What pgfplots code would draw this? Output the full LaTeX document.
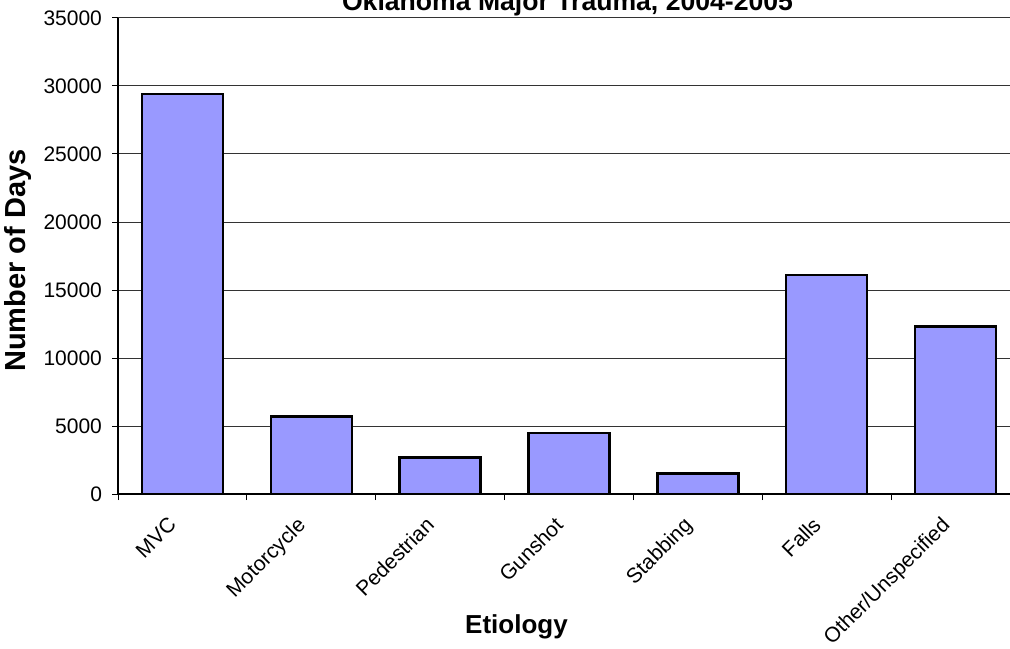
\documentclass[border=0pt]{standalone}
\usepackage{fontspec}
\setmainfont{Liberation Sans}
\usepackage{pgfplots}
\pgfplotsset{compat=1.18}
\definecolor{barfill}{RGB}{153,153,255}
\begin{document}
\begin{tikzpicture}
\path[use as bounding box, clip] (0,0) rectangle (505pt,324pt);
\begin{axis}[
  at={(59pt,77pt)}, anchor=south west,
  scale only axis, width=451pt, height=238pt,
  xmin=-0.5, xmax=6.5, ymin=0, ymax=35000,
  axis x line*=bottom, axis y line*=left,
  axis line style={black, line width=0.6pt},
  ytick={0,5000,...,35000},
  ymajorgrids, grid style={black!80, line width=0.5pt},
  xtick={0,...,6},
  xticklabels={MVC,Motorcycle,Pedestrian,Gunshot,Stabbing,Falls,Other/Unspecified},
  major x tick style={draw=none},
  minor xtick={-0.5,0.5,...,6.5},
  tick align=outside,
  tick style={black, line width=0.5pt},
  major tick length=3pt, minor tick length=3pt,
  scaled y ticks=false,
  yticklabel style={/pgf/number format/1000 sep={}, xshift=-1.5pt},
  /pgf/number format/assume math mode=true,
  ticklabel style={font=\fontsize{10.5}{12}\selectfont},
  xticklabel style={xshift=-7.7pt, yshift=-2.95pt, rotate=45, anchor=north east},
]
\addplot[ybar, bar width=40.5pt, fill=barfill, draw=black, line width=1.25pt]
  coordinates {(0,29400) (1,5700) (2,2700) (3,4500) (4,1500) (5,16100) (6,12300)};
\end{axis}
\node[anchor=base, font=\fontsize{13.3}{15}\selectfont\bfseries] at (283.75pt,318.5pt) {Oklahoma Major Trauma, 2004-2005};
\node[anchor=base, font=\fontsize{13}{15}\selectfont\bfseries] at (258.25pt,7.5pt) {Etiology};
\node[rotate=90, font=\fontsize{14.5}{16}\selectfont\bfseries] at (9pt,193.75pt) {Number of Days};
\end{tikzpicture}
\end{document}
